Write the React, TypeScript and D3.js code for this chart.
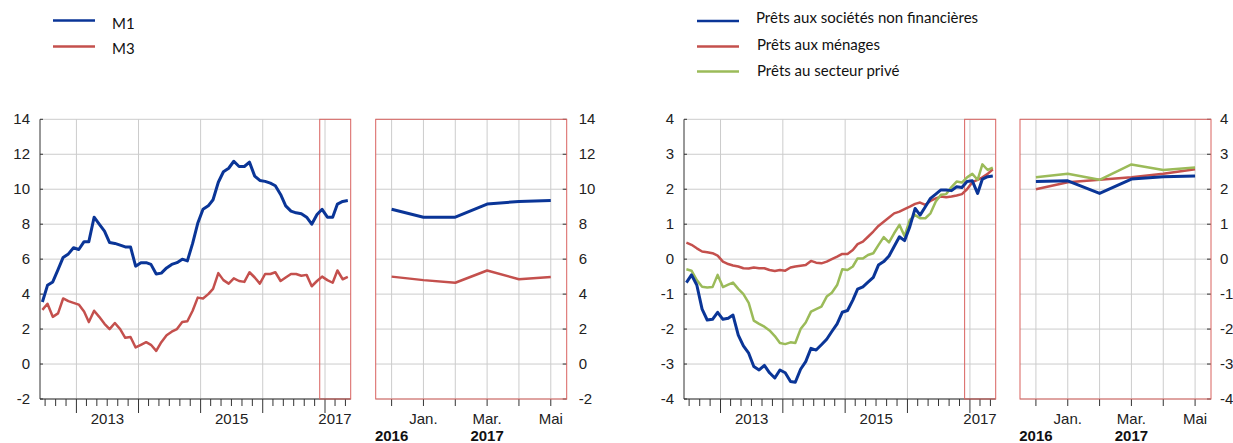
import * as d3 from "d3";
import * as React from "react";

// monthly data, June 2012 .. May 2017
const m1 = [
  3.55, 4.5, 4.7, 5.4, 6.1, 6.3, 6.65, 6.55, 7.0, 7.0,
  8.4, 8.0, 7.6, 6.95, 6.9, 6.8, 6.7, 6.7, 5.6, 5.8,
  5.8, 5.7, 5.15, 5.2, 5.5, 5.7, 5.8, 6.0, 5.9, 6.9,
  8.05, 8.85, 9.05, 9.4, 10.4, 11.0, 11.2, 11.6, 11.3, 11.3,
  11.55, 10.75, 10.5, 10.45, 10.35, 10.2, 9.7, 9.05, 8.75, 8.65,
  8.6, 8.4, 8.0, 8.55, 8.85, 8.4, 8.4, 9.15, 9.3, 9.35,
];
const m3 = [
  3.1, 3.45, 2.7, 2.9, 3.75, 3.6, 3.5, 3.4, 3.0, 2.4,
  3.05, 2.7, 2.3, 2.0, 2.35, 2.0, 1.5, 1.55, 0.95, 1.1,
  1.25, 1.1, 0.75, 1.25, 1.65, 1.85, 2.0, 2.4, 2.45, 3.05,
  3.8, 3.75, 4.0, 4.3, 5.2, 4.8, 4.6, 4.9, 4.75, 4.7,
  5.25, 4.95, 4.6, 5.15, 5.15, 5.25, 4.75, 4.95, 5.15, 5.15,
  5.05, 5.1, 4.45, 4.75, 5.0, 4.8, 4.65, 5.35, 4.85, 4.98,
];
const pretsSnf = [
  -0.67, -0.45, -0.74, -1.43, -1.74, -1.72, -1.52, -1.72, -1.69, -1.6,
  -2.17, -2.48, -2.69, -3.07, -3.17, -3.04, -3.25, -3.4, -3.17, -3.25,
  -3.5, -3.52, -3.15, -2.93, -2.55, -2.6, -2.45, -2.29, -2.07, -1.85,
  -1.52, -1.47, -1.17, -0.86, -0.79, -0.66, -0.52, -0.17, -0.07, 0.09,
  0.36, 0.64, 0.53, 0.93, 1.45, 1.26, 1.5, 1.74, 1.86, 1.98,
  1.98, 1.96, 2.07, 2.05, 2.22, 2.24, 1.88, 2.29, 2.36, 2.38,
];
const pretsMenages = [
  0.47, 0.41, 0.31, 0.22, 0.2, 0.17, 0.1, -0.07, -0.14, -0.18,
  -0.21, -0.26, -0.27, -0.24, -0.26, -0.26, -0.31, -0.34, -0.31, -0.33,
  -0.24, -0.21, -0.19, -0.17, -0.05, -0.1, -0.12, -0.07, 0.0, 0.07,
  0.15, 0.15, 0.26, 0.43, 0.5, 0.64, 0.79, 0.95, 1.07, 1.19,
  1.31, 1.36, 1.43, 1.5, 1.58, 1.62, 1.55, 1.67, 1.74, 1.79,
  1.77, 1.79, 1.82, 1.86, 2.0, 2.2, 2.27, 2.34, 2.44, 2.57,
];
const pretsPrive = [
  -0.29, -0.33, -0.6, -0.79, -0.81, -0.8, -0.45, -0.8, -0.73, -0.67,
  -0.85, -1.0, -1.25, -1.76, -1.85, -1.93, -2.04, -2.2, -2.4, -2.43,
  -2.38, -2.4, -2.0, -1.81, -1.5, -1.43, -1.36, -1.07, -0.96, -0.74,
  -0.29, -0.31, -0.21, 0.02, 0.02, 0.12, 0.17, 0.4, 0.63, 0.48,
  0.74, 0.98, 0.66, 1.12, 1.26, 1.17, 1.17, 1.31, 1.65, 1.84,
  1.86, 2.06, 2.22, 2.19, 2.34, 2.44, 2.27, 2.71, 2.55, 2.62,
];

const yearLabels = [2013, 2015, 2017];
const zoomTickLabels = ["", "Jan.", "", "Mar.", "", "Mai"];
const zoomYearLabels = [{ i: 0, text: "2016" }, { i: 3, text: "2017" }];
const ticksA = [-2, 0, 2, 4, 6, 8, 10, 12, 14];
const ticksB = [-4, -3, -2, -1, 0, 1, 2, 3, 4];

const BLUE = "#0a3597";
const RED = "#c4504d";
const GREEN = "#9bbb59";
const FRAME = "#d9625f";
const GRID = "#cccccc";
const AXIS = "#333333";

const dates = m1.map((_, i) => new Date(2012, 5 + i, 15));
const domainStart = new Date(2012, 5, 1);
const domainEnd = new Date(2017, 5, 1);
const zoomStart = new Date(2016, 11, 1);

const top = 119.3;
const bottom = 399;

interface Series { values: number[]; color: string; width: number; }

function Panel({ mainX, zoomX, yDomain, ticks, series, labelGap }: {
  mainX: [number, number]; zoomX: [number, number]; yDomain: [number, number];
  ticks: number[]; series: Series[]; labelGap: number;
}) {
  const x = d3.scaleTime().domain([domainStart, domainEnd]).range(mainX);
  const y = d3.scaleLinear().domain(yDomain).range([bottom, top]);
  const xz = d3.scalePoint<number>().domain(d3.range(6)).range(zoomX).padding(0.5);
  const n = m1.length;

  const line = d3.line<number>().x((_, i) => x(dates[i])).y(d => y(d));
  const lineZ = d3.line<number>().x((_, i) => xz(i) as number).y(d => y(d));

  const years = d3.timeYear.range(new Date(2013, 0, 1), domainEnd);
  const minorTicks = d3.timeMonth.every(2)!.range(new Date(2012, 6, 1), domainEnd);
  const fz = x(zoomStart);

  return (
    <g>
      {/* main panel grid */}
      {ticks.map(t => (
        <line key={"h" + t} x1={mainX[0]} x2={mainX[1]} y1={y(t)} y2={y(t)} stroke={GRID} strokeWidth={1} />
      ))}
      {years.map(d => (
        <line key={"v" + d.getFullYear()} x1={x(d)} x2={x(d)} y1={top} y2={bottom} stroke={GRID} strokeWidth={1} />
      ))}
      {ticks.map(t => (
        <line key={"lt" + t} x1={mainX[0]} x2={mainX[0] + 3} y1={y(t)} y2={y(t)} stroke={AXIS} strokeWidth={1} />
      ))}
      <line x1={mainX[0]} x2={mainX[0]} y1={top} y2={bottom} stroke={AXIS} strokeWidth={1} />
      <line x1={mainX[0]} x2={mainX[1]} y1={bottom} y2={bottom} stroke={AXIS} strokeWidth={1} />
      {minorTicks.map(d => {
        const major = d.getMonth() === 0;
        return <line key={"mt" + d.getTime()} x1={x(d)} x2={x(d)} y1={bottom} y2={bottom + (major ? 14 : 7)} stroke={AXIS} strokeWidth={1} />;
      })}
      {ticks.map(t => (
        <text key={"yl" + t} x={mainX[0] - 10} y={y(t) + 5} textAnchor="end" fontSize={15} fill="#222">{t}</text>
      ))}
      {yearLabels.map(yr => {
        const s = x(new Date(yr, 0, 1));
        const e = x(new Date(yr + 1, 0, 1));
        const clipped = e > mainX[1];
        return (
          <text key={"yr" + yr} x={clipped ? mainX[1] + 1 : (s + e) / 2} y={424} textAnchor={clipped ? "end" : "middle"} fontSize={15} fill="#222">{yr}</text>
        );
      })}
      <rect x={fz} y={top} width={mainX[1] - fz} height={bottom - top} fill="none" stroke={FRAME} strokeWidth={1} />
      {series.map((s, k) => (
        <path key={"s" + k} d={line(s.values) ?? ""} fill="none" stroke={s.color} strokeWidth={s.width} strokeLinejoin="round" />
      ))}

      {/* zoom panel */}
      {ticks.map(t => (
        <line key={"zh" + t} x1={zoomX[0]} x2={zoomX[1]} y1={y(t)} y2={y(t)} stroke={GRID} strokeWidth={1} />
      ))}
      {d3.range(6).map(i => (
        <line key={"zv" + i} x1={xz(i)} x2={xz(i)} y1={top} y2={bottom} stroke={GRID} strokeWidth={1} />
      ))}
      {ticks.map(t => (
        <line key={"zt" + t} x1={zoomX[1] - 4} x2={zoomX[1]} y1={y(t)} y2={y(t)} stroke={AXIS} strokeWidth={1} />
      ))}
      {d3.range(6).map(i => (
        <line key={"zbt" + i} x1={xz(i)} x2={xz(i)} y1={bottom} y2={bottom + 7} stroke={AXIS} strokeWidth={1} />
      ))}
      <rect x={zoomX[0]} y={top} width={zoomX[1] - zoomX[0]} height={bottom - top} fill="none" stroke={FRAME} strokeWidth={1} />
      {ticks.map(t => (
        <text key={"zyl" + t} x={zoomX[1] + labelGap} y={y(t) + 5} fontSize={15} fill="#222">{t}</text>
      ))}
      {zoomTickLabels.map((l, i) => l && (
        <text key={"zl" + i} x={xz(i)} y={424} textAnchor="middle" fontSize={15} fill="#222">{l}</text>
      ))}
      {zoomYearLabels.map(l => (
        <text key={"zy" + l.i} x={xz(l.i)} y={441} textAnchor="middle" fontSize={15} fontWeight="bold" fill="#111">{l.text}</text>
      ))}
      {series.map((s, k) => (
        <path key={"zs" + k} d={lineZ(s.values.slice(n - 6)) ?? ""} fill="none" stroke={s.color} strokeWidth={s.width} strokeLinejoin="round" />
      ))}
    </g>
  );
}

function Legend({ x, items }: { x: number; items: { label: string; color: string; ly: number; ty: number; tx: number }[] }) {
  return (
    <g>
      {items.map(it => (
        <g key={it.label}>
          <line x1={x} x2={x + 42} y1={it.ly} y2={it.ly} stroke={it.color} strokeWidth={2.5} />
          <text x={it.tx} y={it.ty} fontFamily="Lato, 'Open Sans', sans-serif" fontSize={15} fill="#111">{it.label}</text>
        </g>
      ))}
    </g>
  );
}

export default function App() {
  return (
    <div style={{ position: "absolute", left: 0, top: 0 }}>
      <svg width={1233} height={443} fontFamily="'Liberation Sans', Arial, sans-serif" style={{ display: "block", background: "#fff" }}>
        <Legend x={53} items={[
          { label: "M1", color: BLUE, ly: 20.5, ty: 29, tx: 112 },
          { label: "M3", color: RED, ly: 46.5, ty: 54, tx: 112 },
        ]} />
        <Legend x={697} items={[
          { label: "Prêts aux sociétés non financières", color: BLUE, ly: 21, ty: 23, tx: 756 },
          { label: "Prêts aux ménages", color: RED, ly: 46.5, ty: 50, tx: 757 },
          { label: "Prêts au secteur privé", color: GREEN, ly: 71.5, ty: 76, tx: 757 },
        ]} />
        <Panel mainX={[40, 350.7]} zoomX={[375.7, 566.7]} yDomain={[-2, 14]} ticks={ticksA} labelGap={12}
          series={[{ values: m3, color: RED, width: 2.5 }, { values: m1, color: BLUE, width: 3 }]} />
        <Panel mainX={[684, 995.7]} zoomX={[1020, 1211]} yDomain={[-4, 4]} ticks={ticksB} labelGap={9}
          series={[
            { values: pretsMenages, color: RED, width: 2.5 },
            { values: pretsPrive, color: GREEN, width: 2.5 },
            { values: pretsSnf, color: BLUE, width: 3 },
          ]} />
      </svg>
    </div>
  );
}
